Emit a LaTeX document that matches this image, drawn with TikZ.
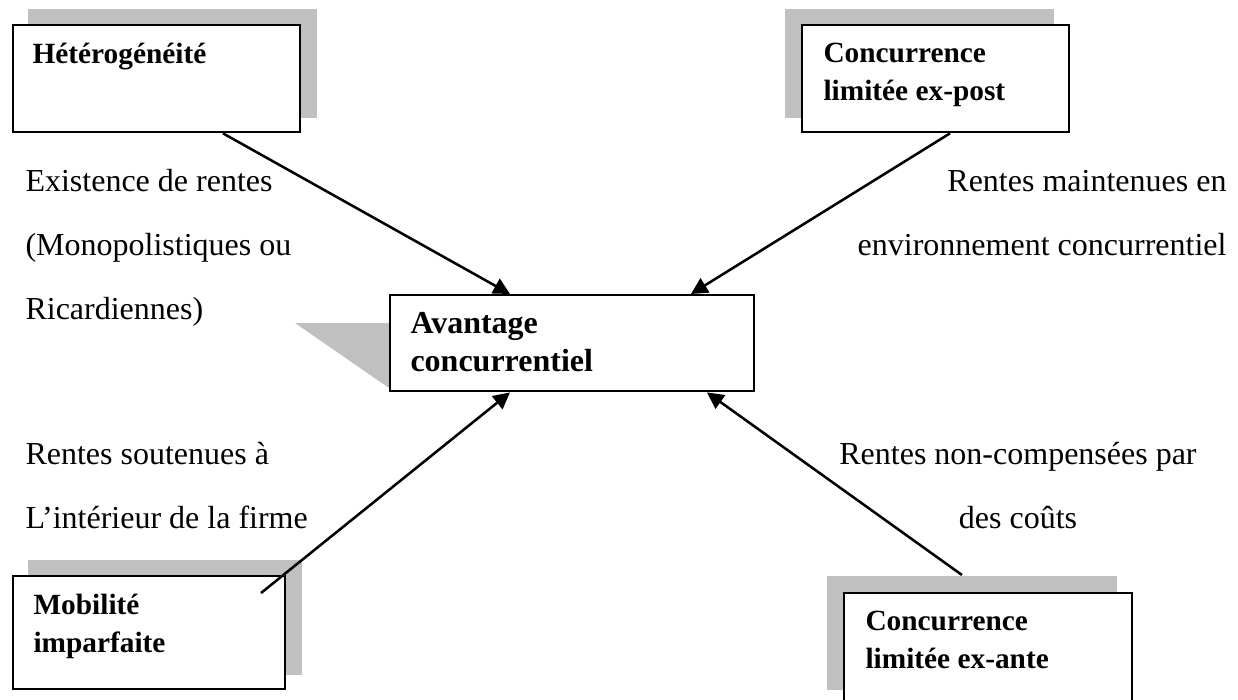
\documentclass[tikz,border=0pt]{standalone}
\usepackage{fontspec}
\setmainfont{Liberation Serif}
\usetikzlibrary{arrows.meta,backgrounds}
\definecolor{shadowgray}{RGB}{192,192,192}
\tikzset{
  box/.style={draw, fill=white, line width=0.9pt, anchor=north west, inner sep=0pt},
  boxtext/.style={anchor=base west, inner sep=0pt, align=left,
    font=\bfseries\fontsize{11}{13.9}\selectfont},
  label/.style={inner sep=0pt, font=\fontsize{12}{24}\selectfont},
  link/.style={line width=0.95pt, -{Triangle[length=6.2pt,width=6.2pt]}}}

\begin{document}
\begin{tikzpicture}[x=0.375pt, y=-0.375pt]
  \useasboundingbox (0,0) rectangle (1238,699);
  % the five boxes
  \node[box, minimum width=107.6pt, minimum height=40.1pt] (het)  at (12,24) {};
  \node[box, minimum width=100.1pt, minimum height=40.1pt] (post) at (801,24) {};
  \node[box, minimum width=136.5pt, minimum height=36pt]   (avant) at (389,294) {};
  \node[box, minimum width=102pt,   minimum height=42.4pt] (mob)  at (12,575) {};
  \node[box, minimum width=108pt,   minimum height=42pt]   (ante) at (843,592) {};
  \node[boxtext] (het-t)  at ([shift={(20,39)}]het.north west) {Hétérogénéité};
  \node[boxtext] (post-t) at ([shift={(22,76)}]post.north west) {Concurrence\\limitée ex-post};
  \node[boxtext, font=\bfseries\fontsize{12}{14.25}\selectfont] (avant-t)
    at ([shift={(21,77)}]avant.north west) {Avantage\\concurrentiel};
  \node[boxtext] (mob-t)  at ([shift={(21,77)}]mob.north west) {Mobilité\\imparfaite};
  \node[boxtext] (ante-t) at ([shift={(22,76)}]ante.north west) {Concurrence\\limitée ex-ante};
  % shadows
  \begin{scope}[on background layer]
    \fill[shadowgray] ([shift={(16,-15)}]het.south west) rectangle ([shift={(16,-15)}]het.north east);
    \fill[shadowgray] ([shift={(-16,-15)}]post.south west) rectangle ([shift={(-16,-15)}]post.north east);
    \fill[shadowgray] ([shift={(16,-15)}]mob.south west) rectangle ([shift={(16,-15)}]mob.north east);
    \fill[shadowgray] ([shift={(-16,-16)}]ante.south west) rectangle ([shift={(-16,-16)}]ante.north east);
    \fill[shadowgray] ([shift={(-94,29)}]avant.north west) -- ([shift={(0,29)}]avant.north west)
      -- ([shift={(0,94)}]avant.north west) -- cycle;
  \end{scope}
  % labels (anchored on their last line)
  \node[label, anchor=base west, align=left] (lab-het) at (25,319)
    {Existence de rentes\\(Monopolistiques ou\\Ricardiennes)};
  \node[label, anchor=base east, align=right] (lab-post) at (1227,255)
    {Rentes maintenues en\\environnement concurrentiel};
  \node[label, anchor=base west, align=left] (lab-mob) at (25,528)
    {Rentes soutenues à\\L’intérieur de la firme};
  \node[label, anchor=base, align=center] (lab-ante) at (1018,528)
    {Rentes non-compensées par\\des coûts};
  % arrows
  \draw[link] ([shift={(211,0)}]het.south west) -- ([shift={(121,0)}]avant.north west);
  \draw[link] ([shift={(149,0)}]post.south west) -- ([shift={(302,0)}]avant.north west);
  \draw[link] ([shift={(249,18)}]mob.north west) -- ([shift={(121,0)}]avant.south west);
  \draw[link] ([shift={(119,-17)}]ante.north west) -- ([shift={(318,0)}]avant.south west);
\end{tikzpicture}
\end{document}
